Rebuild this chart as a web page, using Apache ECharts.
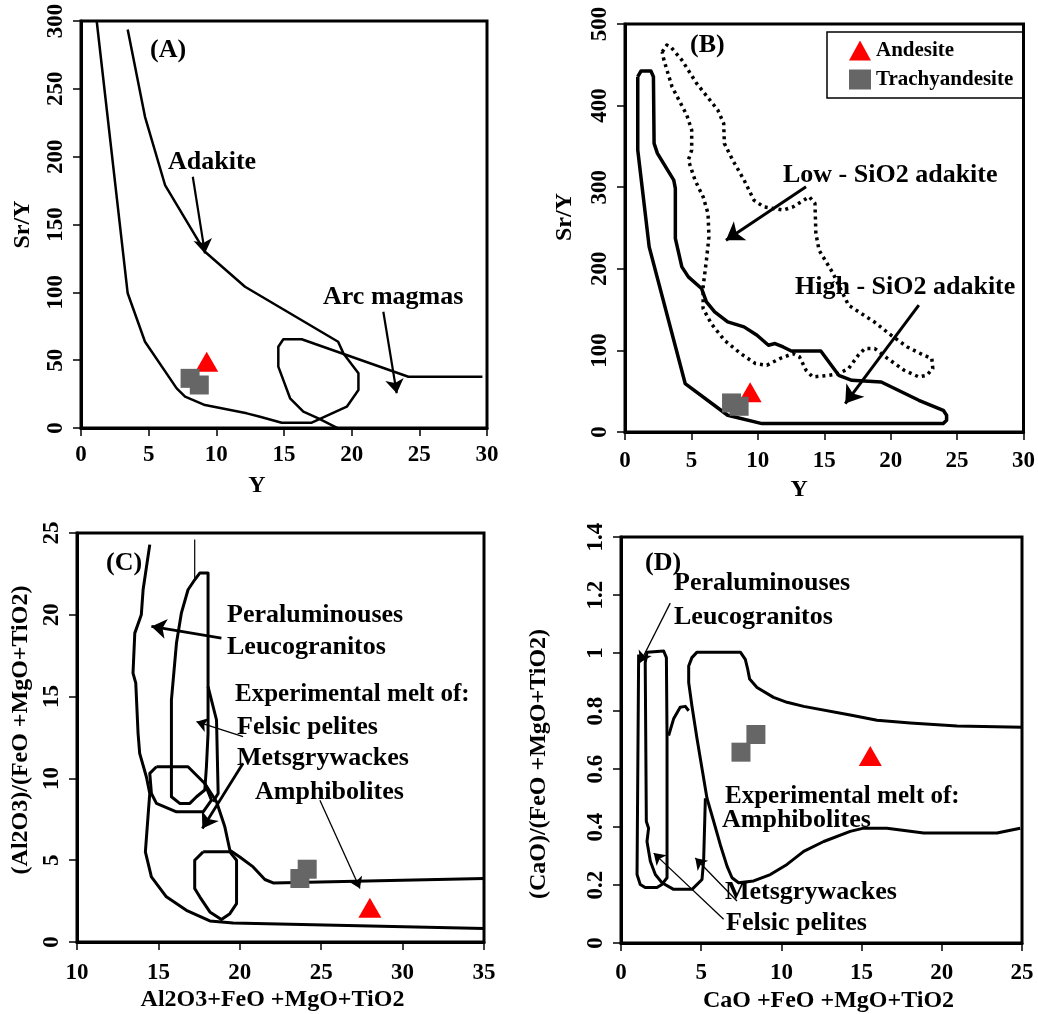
<!DOCTYPE html>
<html>
<head>
<meta charset="utf-8">
<script src="https://cdn.jsdelivr.net/npm/echarts@6/dist/echarts.min.js"></script>
<style>
html,body{margin:0;padding:0;background:#fff;}
#chart{width:1038px;height:1014px;}
</style>
</head>
<body>
<div id="chart"></div>
<script>
// ---------- Panel A : Sr/Y vs Y ----------
const aAdakiteField = [[1.16,300],[3.45,99.3],[4.73,63.6],[7.07,29.2],[7.69,23.1],[9.16,16.9],[12.25,10.8],[13.23,8.3],[14.83,3.9],[17.05,3.9],[19.64,15.7],[20.5,28],[20.5,40.3],[19.39,55],[19.0,63.6],[12.12,104.1],[9.16,129.9],[6.21,179.1],[4.73,229.4],[3.45,293.8]];
const aArcField = [[19.1,-0.8],[17.54,7.1],[16.43,12.0],[15.45,21.9],[14.58,45.2],[14.58,59.9],[14.95,65.4],[16.31,65.4],[24.19,37.8],[29.66,37.8]];
const aArrows = [[[8.26,185.2],[9.16,128.7]],[[22.34,85.7],[23.33,25.6]]];
const aAndesite = [[9.29,48.9]];
const aTrachy = [[8.06,36.6],[8.74,31.7]];

// ---------- Panel B : Sr/Y vs Y ----------
const bLowField = [[0.96,435.4],[1.21,442.4],[1.95,442.4],[2.14,435.4],[2.19,353.7],[2.44,341.4],[3.06,325],[3.67,308.7],[3.79,298.5],[3.79,237.2],[4.28,202.4],[4.77,190.1],[5.76,175.9],[6.13,159.4],[6.75,147.2],[7.73,134.9],[8.96,128.8],[9.94,118.6],[10.8,106.3],[11.29,108.4],[11.91,104.2],[12.52,99.3],[14.74,99.3],[16.09,69.5],[17.08,63.4],[19.29,61.3],[22.12,38.9],[23.96,26.6],[24.21,20.5],[24.21,14.3],[23.96,10.3],[10.31,10.3],[7.73,20.5],[4.53,59.4],[1.82,226.9],[0.96,345.5],[0.96,435.4]];
const bDottedField = [[2.80,465.7],[3.15,474.2],[3.45,471.8],[4.28,455.8],[5.39,427.3],[6.99,394.4],[7.43,378.2],[7.48,353.7],[8.10,333.4],[8.96,308.8],[9.70,284.2],[10.44,275.9],[11.91,271.9],[12.65,275.9],[13.87,288.2],[14.30,280.1],[14.37,243.3],[14.61,222.8],[15.60,196.2],[16.83,155.4],[18.80,134.5],[20.03,118.6],[21.25,104.2],[22.49,94.1],[23.10,90.0],[23.17,77.8],[22.73,69.5],[22.12,67.5],[21.01,75.7],[19.78,90.0],[18.80,102.3],[18.06,102.3],[17.56,94.1],[16.83,77.8],[16.09,71.6],[15.35,69.5],[14.13,67.5],[13.63,75.7],[13.14,92.0],[12.65,96.1],[11.66,90.0],[10.68,81.8],[9.82,83.9],[8.71,96.1],[7.48,112.5],[6.49,132.9],[5.88,151.3],[5.88,177.8],[6.13,210.6],[6.32,239.1],[6.25,267.8],[5.88,288.2],[5.27,308.7],[4.77,333.2],[5.02,345.5],[5.02,370.0],[4.65,388.4],[3.54,423.1],[2.93,455.8],[2.80,465.7]];
const bArrows = [[[13.63,300.5],[7.60,235.1]],[[22.12,155.4],[16.58,34.8]]];
const bAndesite = [[9.42,48.7]];
const bTrachy = [[8.02,35.6],[8.59,31.5]];

// ---------- Panel C : Al2O3/(FeO+MgO+TiO2) ----------
const cOuter = [[14.47,24.29],[14.06,21.53],[13.95,20.0],[13.55,18.88],[13.44,16.43],[13.61,15.82],[13.75,12.76],[13.85,11.53],[14.26,10.1],[14.47,9.08],[14.36,7.65],[14.2,5.51],[14.57,3.98],[15.49,2.76],[16.72,1.94],[18.16,1.29],[19.59,1.16],[35,0.82]];
const cFelsic = [[17.23,22.14],[17.54,22.55],[18.05,22.55],[18.05,12.76],[17.95,10.71],[17.85,9.29],[17.34,8.88],[16.93,8.47],[16.31,8.47],[15.8,8.88],[15.8,14.8],[16.11,18.27],[16.41,20.1],[16.82,21.53],[17.23,22.14]];
const cStem = [[17.23,24.6],[17.23,22.14]];
const cMets = [[18.05,15.61],[18.57,13.57],[18.67,9.08],[18.36,8.57]];
const cLoop1 = [[14.88,10.71],[16.82,10.71],[17.85,9.69],[18.26,8.67],[17.75,7.96],[16.11,7.96],[14.88,8.47],[14.57,9.08],[14.47,10.31],[14.88,10.71]];
const cAmph = [[17.85,9.69],[18.57,8.57],[19.08,7.04],[19.39,5.61],[20.0,5.2],[20.82,4.59],[21.54,3.82],[22.05,3.61],[35,3.88]];
const cLoop2 = [[17.75,5.51],[19.39,5.51],[19.8,5.0],[19.8,2.35],[19.39,1.73],[18.87,1.37],[18.16,1.84],[17.54,2.76],[17.23,3.27],[17.23,5.0],[17.75,5.51]];
const cArrowsThick = [[[18.87,18.57],[14.57,19.29]],[[20.2,10.92],[17.7,6.94]]];
const cArrowsThin = [[[20.2,12.55],[17.34,13.47]],[[24.92,8.67],[27.38,3.27]]];
const cAndesite = [[27.99,2.1]];
const cTrachy = [[23.69,3.88],[24.14,4.45]];

// ---------- Panel D : CaO/(FeO+MgO+TiO2) ----------
const dAmph = [[25.0,0.744],[20.95,0.748],[18.04,0.759],[15.96,0.768],[14.29,0.786],[11.39,0.816],[10.35,0.830],[9.51,0.847],[8.48,0.881],[8.02,0.910],[7.9,0.944],[7.75,0.978],[7.44,1.003],[4.74,1.003],[4.42,0.984],[4.22,0.955],[4.22,0.898],[4.42,0.818],[4.74,0.704],[5.05,0.602],[5.36,0.499],[5.78,0.419],[6.19,0.339],[6.61,0.265],[6.92,0.225],[7.33,0.208],[8.27,0.214],[9.31,0.236],[10.35,0.271],[11.39,0.316],[12.64,0.350],[14.29,0.385],[15.13,0.396],[16.58,0.396],[18.87,0.379],[23.44,0.379],[24.89,0.396]];
const dLeuco = [[1.10,0.995],[1.0,0.236],[1.2,0.202],[1.51,0.191],[2.24,0.191],[2.55,0.202],[2.87,0.225],[2.87,0.704],[2.83,0.984],[2.66,1.007],[1.62,1.003],[1.51,0.966],[1.58,0.419],[1.72,0.396],[1.62,0.350],[1.83,0.282],[2.14,0.236],[2.55,0.208],[3.28,0.185],[4.43,0.185],[5.05,0.219],[5.15,0.282],[5.26,0.499]];
const dHook = [[2.97,0.715],[3.28,0.773],[3.69,0.813],[4.01,0.816],[4.22,0.801]];
const dArrows = [[[3.07,1.172],[1.2,0.967]],[[6.4,0.082],[2.04,0.31]],[[7.23,0.145],[4.63,0.293]]];
const dAndesite = [[15.54,0.645]];
const dTrachy = [[7.48,0.658],[8.41,0.719]];

// ---------- axis ticks ----------
const axA = {x:[0,30,5], y:[0,300,50]};
const axB = {x:[0,30,5], y:[0,500,100]};
const axC = {x:[10,35,5], y:[0,25,5]};
const axD = {x:[0,25,5], y:[0,1.4,0.2]};

const FONT = '"Liberation Serif","Times New Roman",serif';
const RED = '#ff0000', GREY = '#666666';

function xAxis(i, r, name, pad, margin) {
  return {type:'value', gridIndex:i, min:r[0], max:r[1], interval:r[2],
    name:name, nameLocation:'middle', nameGap:46,
    nameTextStyle:{fontFamily:FONT, fontWeight:'bold', fontSize:24, color:'#000', padding:pad||0},
    axisLine:{show:true, onZero:false, lineStyle:{color:'#000', width:3}},
    axisTick:{show:true, inside:false, length:8, lineStyle:{color:'#000', width:1.5}},
    axisLabel:{fontFamily:FONT, fontWeight:'bold', fontSize:23, color:'#000', margin:margin||17},
    splitLine:{show:false}};
}
function yAxis(i, r, name, gap, pad) {
  return {type:'value', gridIndex:i, min:r[0], max:r[1], interval:r[2],
    name:name, nameLocation:'middle', nameGap:gap, nameRotate:90,
    nameTextStyle:{fontFamily:FONT, fontWeight:'bold', fontSize:24, color:'#000', padding:pad||0},
    axisLine:{show:true, onZero:false, lineStyle:{color:'#000', width:3}},
    axisTick:{show:true, inside:false, length:8, lineStyle:{color:'#000', width:1.5}},
    axisLabel:{fontFamily:FONT, fontWeight:'bold', fontSize:23, color:'#000', rotate:90, margin:13},
    splitLine:{show:false}};
}
function field(i, data, w, dash) {
  return {type:'line', xAxisIndex:i, yAxisIndex:i, data:data, showSymbol:false, symbol:'none',
    smooth:false, silent:true, z:2,
    lineStyle:{color:'#000', width:w||3, type:dash||'solid', cap:'butt', join:'round'}};
}
function arrows(i, list, w, size) {
  return {type:'lines', coordinateSystem:'cartesian2d', xAxisIndex:i, yAxisIndex:i,
    symbol:['none','arrow'], symbolSize:size, silent:true, z:3,
    lineStyle:{color:'#000', width:w, opacity:1, curveness:0},
    data:list.map(c => ({coords:c}))};
}
function pts(i, name, data, kind) {
  return kind === 'tri'
    ? {type:'scatter', name:name, xAxisIndex:i, yAxisIndex:i, data:data, symbol:'triangle', symbolSize:[23,20], itemStyle:{color:RED, opacity:1}, z:5, silent:true}
    : {type:'scatter', name:name, xAxisIndex:i, yAxisIndex:i, data:data, symbol:'rect', symbolSize:[19,19], itemStyle:{color:GREY, opacity:1}, z:5, silent:true};
}
function txt(x, y, s, size) {
  return {type:'text', x:x, y:y, z:10, silent:true,
    style:{text:s, font:'bold ' + (size||26) + 'px ' + FONT, fill:'#000', verticalAlign:'middle'}};
}

const chart = echarts.init(document.getElementById('chart'), null, {renderer:'canvas'});
chart.setOption({
  animation:false,
  backgroundColor:'#ffffff',
  grid:[
    {left:81, top:21, width:406, height:407, show:true, borderColor:'#000', borderWidth:3},
    {left:625, top:24, width:407, height:408, show:true, borderColor:'#000', borderWidth:3},
    {left:77, top:533, width:407, height:409, show:true, borderColor:'#000', borderWidth:3},
    {left:621, top:537, width:401, height:409, show:true, borderColor:'#000', borderWidth:3}
  ],
  xAxis:[
    xAxis(0, axA.x, 'Y', [0,54,0,0], 16),
    xAxis(1, axB.x, 'Y', [0,50,0,0], 18),
    xAxis(2, axC.x, 'Al2O3+FeO +MgO+TiO2', [0,16,0,0], 20),
    xAxis(3, axD.x, 'CaO +FeO +MgO+TiO2', [0,0,0,14], 19)
  ],
  yAxis:[
    yAxis(0, axA.y, 'Sr/Y', 46),
    yAxis(1, axB.y, 'Sr/Y', 48, [0,0,0,22]),
    yAxis(2, axC.y, '(Al2O3)/(FeO +MgO+TiO2)', 44, [0,0,0,15]),
    yAxis(3, axD.y, '(CaO)/(FeO +MgO+TiO2)', 70, [0,48,0,0])
  ],
  legend:{
    show:true, orient:'vertical', left:827, top:32,
    data:['Andesite','Trachyandesite'],
    borderColor:'#000', borderWidth:1.5, padding:[8,10,8,22], itemGap:8,
    itemWidth:22, itemHeight:20, selectedMode:false,
    textStyle:{fontFamily:FONT, fontWeight:'bold', fontSize:21, color:'#000'}
  },
  series:[
    field(0, aAdakiteField, 2.5), field(0, aArcField, 2.5), arrows(0, aArrows, 2.2, 14),
    pts(0, 'Andesite', aAndesite, 'tri'), pts(0, 'Trachyandesite', aTrachy, 'sq'),

    field(1, bLowField, 3.5), field(1, bDottedField, 3.5, [3,4]), arrows(1, bArrows, 3, 17),
    pts(1, 'Andesite', bAndesite, 'tri'), pts(1, 'Trachyandesite', bTrachy, 'sq'),

    field(2, cOuter), field(2, cFelsic), field(2, cStem, 1.2), field(2, cMets), field(2, cLoop1),
    field(2, cAmph), field(2, cLoop2), arrows(2, cArrowsThick, 2.8, 15), arrows(2, cArrowsThin, 1.3, 11),
    pts(2, 'Andesite', cAndesite, 'tri'), pts(2, 'Trachyandesite', cTrachy, 'sq'),

    field(3, dAmph), field(3, dLeuco), field(3, dHook), arrows(3, dArrows, 1.3, 11),
    pts(3, 'Andesite', dAndesite, 'tri'), pts(3, 'Trachyandesite', dTrachy, 'sq')
  ],
  graphic:[
    txt(150, 50, '(A)'), txt(168, 162, 'Adakite'), txt(323, 297, 'Arc magmas'),
    txt(690, 45, '(B)'), txt(783, 175, 'Low - SiO2 adakite'), txt(795, 287, 'High - SiO2 adakite'),
    txt(106, 563, '(C)'), txt(227, 615, 'Peraluminouses'), txt(227, 647, 'Leucogranitos'),
    txt(235, 695, 'Experimental melt of:', 25), txt(237, 727, 'Felsic pelites'),
    txt(237, 758, 'Metsgrywackes'), txt(255, 792, 'Amphibolites'),
    txt(645, 563, '(D)'), txt(674, 583, 'Peraluminouses'), txt(674, 617, 'Leucogranitos'),
    txt(725, 797, 'Experimental melt of:', 25), txt(722, 820, 'Amphibolites'),
    txt(725, 892, 'Metsgrywackes'), txt(726, 923, 'Felsic pelites')
  ]
});
</script>
</body>
</html>
